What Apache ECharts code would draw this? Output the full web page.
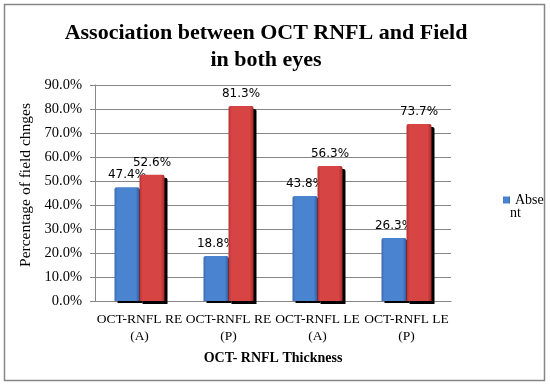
<!DOCTYPE html>
<html><head><meta charset="utf-8">
<script src="https://cdn.jsdelivr.net/npm/echarts@6/dist/echarts.min.js"></script>
<style>html,body{margin:0;padding:0;background:#fff}#c{width:550px;height:385px}</style>
</head><body><div id="c"></div>
<script>
var categories = ['OCT-RNFL RE\n(A)', 'OCT-RNFL RE\n(P)', 'OCT-RNFL LE\n(A)', 'OCT-RNFL LE\n(P)'];
var absentValues = [47.4, 18.8, 43.8, 26.3];
var presentValues = [52.6, 81.3, 56.3, 73.7];
var yTicks = [0, 10, 20, 30, 40, 50, 60, 70, 80, 90];

var serif = '"Liberation Serif", "DejaVu Serif", serif';
var chart = echarts.init(document.getElementById('c'), null, {renderer: 'canvas'});

function grad(a, b, c) {
  return new echarts.graphic.LinearGradient(0, 0, 1, 0, [
    {offset: 0, color: a}, {offset: 0.12, color: b}, {offset: 0.85, color: b}, {offset: 1, color: c}
  ]);
}

chart.setOption({
  animation: false,
  backgroundColor: '#fff',
  title: {
    text: 'Association between OCT RNFL and Field\nin both eyes',
    left: 261, top: 15, textAlign: 'center',
    textStyle: {fontFamily: serif, fontWeight: 'bold', fontSize: 22, lineHeight: 27, color: '#000'}
  },
  legend: {
    data: ['Absent'],
    left: 498, top: 188,
    itemWidth: 7, itemHeight: 7,
    formatter: function () { return 'Abse'; },
    textStyle: {fontFamily: serif, fontSize: 14, color: '#000'},
    icon: 'rect'
  },
  grid: {left: 95, right: 99, top: 85, bottom: 84, containLabel: false},
  xAxis: {
    type: 'category', data: categories,
    name: 'OCT- RNFL Thickness', nameLocation: 'middle', nameGap: 50,
    nameTextStyle: {fontFamily: serif, fontWeight: 'bold', fontSize: 14, color: '#000'},
    axisLine: {lineStyle: {color: '#868686'}},
    axisTick: {show: false},
    axisLabel: {fontFamily: serif, fontSize: 13.5, lineHeight: 17, color: '#000', margin: 10, interval: 0}
  },
  yAxis: {
    type: 'value', min: 0, max: 90, interval: 10,
    name: 'Percentage of field chnges', nameLocation: 'middle', nameGap: 60,
    nameTextStyle: {fontFamily: serif, fontSize: 15.5, color: '#000', padding: [0, 0, 0, 16]},
    axisLine: {show: true, lineStyle: {color: '#868686'}},
    axisTick: {show: true, length: 5, lineStyle: {color: '#868686'}},
    splitLine: {lineStyle: {color: '#868686'}},
    axisLabel: {fontFamily: serif, fontSize: 14.5, color: '#000', margin: 13,
      formatter: function (v) { return yTicks.indexOf(v) >= 0 ? v.toFixed(1) + '%' : ''; }}
  },
  series: [
    {
      name: 'Absent', type: 'bar', data: absentValues, barWidth: 25, barGap: '0%', z: 2,
      itemStyle: {color: grad('#3a6cb0', '#4a84d0', '#2f5c9c'), borderRadius: [2, 2, 0, 0], shadowColor: '#000', shadowOffsetX: 3, shadowOffsetY: 2, shadowBlur: 0},
      label: {show: true, position: 'top', distance: 6, formatter: function (p) { return p.value.toFixed(1) + '%'; },
        fontFamily: '"DejaVu Sans", sans-serif', fontSize: 12, color: '#000'}
    },
    {
      name: 'Present', type: 'bar', data: presentValues, barWidth: 25, barGap: '0%', z: 3,
      itemStyle: {color: grad('#b83232', '#d64444', '#a82a2a'), borderRadius: [2, 2, 0, 0], shadowColor: '#000', shadowOffsetX: 3, shadowOffsetY: 3, shadowBlur: 0},
      label: {show: true, position: 'top', distance: 6, formatter: function (p) { return p.value.toFixed(1) + '%'; },
        fontFamily: '"DejaVu Sans", sans-serif', fontSize: 12, color: '#000'}
    }
  ],
  graphic: [
    {type: 'rect', shape: {x: 4.5, y: 4.5, width: 540, height: 376},
      style: {fill: 'none', stroke: '#868686', lineWidth: 1.5}, silent: true},
    {type: 'text', left: 510, top: 206,
      style: {text: 'nt', fontFamily: serif, fontSize: 14, fill: '#000'}, silent: true}
  ]
});
</script></body></html>
